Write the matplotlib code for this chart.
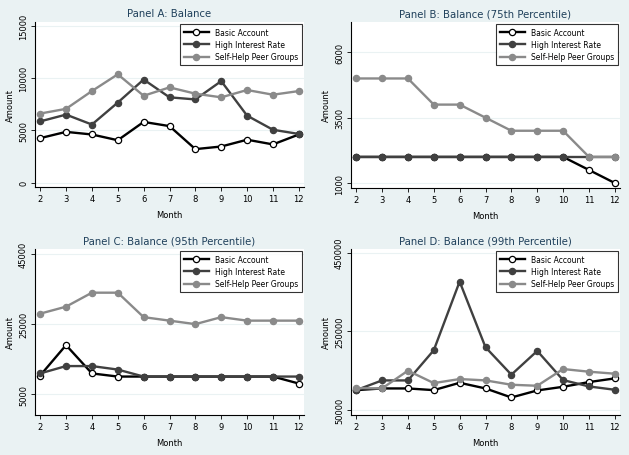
import matplotlib
matplotlib.use("Agg")
import matplotlib.pyplot as plt

months = list(range(2, 13))
series_names = ["Basic Account", "High Interest Rate", "Self-Help Peer Groups"]

# Panel A: Balance (mean)
a_basic = [4250, 4850, 4600, 4050, 5800, 5400, 3200, 3450, 4100, 3650, 4600]
a_high = [5850, 6500, 5550, 7650, 9850, 8150, 7950, 9700, 6400, 5050, 4650]
a_self = [6600, 7050, 8750, 10350, 8300, 9100, 8500, 8150, 8850, 8400, 8750]

# Panel B: 75th percentile
b_basic = [2000, 2000, 2000, 2000, 2000, 2000, 2000, 2000, 2000, 1500, 1000]
b_high = [2000, 2000, 2000, 2000, 2000, 2000, 2000, 2000, 2000, 2000, 2000]
b_self = [5000, 5000, 5000, 4000, 4000, 3500, 3000, 3000, 3000, 2000, 2000]

# Panel C: 95th percentile
c_basic = [10300, 19000, 10900, 10000, 10000, 10000, 10000, 10000, 10000, 10000, 8000]
c_high = [10900, 13000, 13000, 12000, 10000, 10000, 10000, 10000, 10000, 10000, 10000]
c_self = [28000, 30000, 34000, 34000, 27000, 26000, 25000, 27000, 26000, 26000, 26000]

# Panel D: 99th percentile
d_basic = [100300, 104600, 104600, 100300, 119000, 104600, 81600, 99500, 108800, 120800, 130200]
d_high = [100300, 125000, 125000, 201800, 376600, 209500, 139600, 200100, 125900, 109700, 101200]
d_self = [105400, 104600, 149800, 118200, 128500, 125100, 114000, 111400, 154000, 147200, 142100]

panels = [
    ("Panel A: Balance", [a_basic, a_high, a_self], [0, 5000, 10000, 15000], (-420, 15350)),
    ("Panel B: Balance (75th Percentile)", [b_basic, b_high, b_self], [1000, 3500, 6000], (810, 7160)),
    ("Panel C: Balance (95th Percentile)", [c_basic, c_high, c_self], [5000, 25000, 45000], (-1000, 46500)),
    ("Panel D: Balance (99th Percentile)", [d_basic, d_high, d_self], [50000, 250000, 450000], (37000, 459500)),
]

bg = "#eaf2f3"
title_color = "#1e3f5a"
styles = [
    dict(color="black", marker="o", markerfacecolor="white", markeredgecolor="black"),
    dict(color="#404040", marker="o", markerfacecolor="#404040", markeredgecolor="#404040"),
    dict(color="#8a8a8a", marker="o", markerfacecolor="#8a8a8a", markeredgecolor="#8a8a8a"),
]

fig = plt.figure(figsize=(6.29, 4.56), dpi=100, facecolor=bg)
W, H = 629, 456
boxes = [(35, 23, 304, 188), (351, 23, 620, 189), (35, 250, 304, 416), (351, 250, 620, 416)]

for (title, data, ticks, ylim), (x0, y0, x1, y1) in zip(panels, boxes):
    ax = fig.add_axes([x0 / W, 1 - y1 / H, (x1 - x0) / W, (y1 - y0) / H])
    ax.set_facecolor("white")
    for vals, name, st in zip(data, series_names, styles):
        ax.plot(months, vals, lw=1.7, ms=4.5, mew=0.9, label=name, **st)
    ax.set_xlim(1.8, 12.2)
    ax.set_ylim(*ylim)
    ax.set_xticks(months)
    ax.set_yticks(ticks)
    ax.set_yticklabels([str(t) for t in ticks], rotation=90, va="center")
    ax.grid(axis="y", color=bg, lw=0.8)
    ax.set_axisbelow(True)
    for s in ["top", "right"]:
        ax.spines[s].set_visible(False)
    for s in ["left", "bottom"]:
        ax.spines[s].set_linewidth(0.8)
    ax.tick_params(labelsize=6, length=3, width=0.6, pad=2)
    ax.set_xlabel("Month", fontsize=6, labelpad=5)
    ax.set_ylabel("Amount", fontsize=6, labelpad=3)
    ax.set_title(title, fontsize=7.3, color=title_color, pad=4)
    leg = ax.legend(loc="upper right", fontsize=5.5, frameon=True, fancybox=False,
                    edgecolor="black", handlelength=3.2, borderpad=0.5,
                    labelspacing=0.4, borderaxespad=0.3, handletextpad=0.8)
    leg.get_frame().set_linewidth(0.8)

fig.savefig("out.png", dpi=100, facecolor=bg)
